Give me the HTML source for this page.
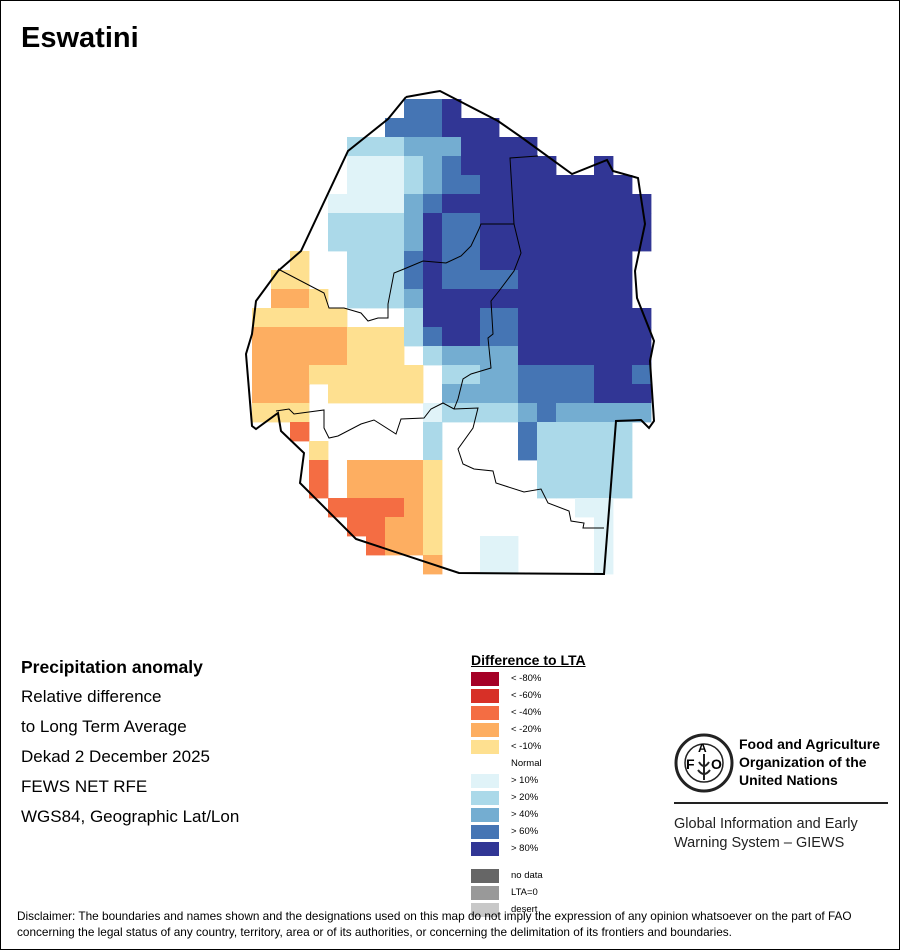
<!DOCTYPE html>
<html><head><meta charset="utf-8"><style>
body{margin:0;background:#fff}
#w{position:relative;width:898px;height:948px;border:1px solid #000;overflow:hidden;font-family:"Liberation Sans",sans-serif;background:#fff}
.t{position:absolute;white-space:nowrap;color:#000}
</style></head><body><div id="w">
<div class="t" style="left:20px;top:21px;font-size:29px;font-weight:bold">Eswatini</div>
<svg id="m" width="898" height="948" style="position:absolute;left:0;top:0"></svg>
<div class="t" style="left:20px;top:656px;font-size:17.5px;font-weight:bold">Precipitation anomaly</div>
<div class="t" style="left:20px;top:686px;font-size:17px">Relative difference</div>
<div class="t" style="left:20px;top:716px;font-size:17px">to Long Term Average</div>
<div class="t" style="left:20px;top:746px;font-size:17px">Dekad 2 December 2025</div>
<div class="t" style="left:20px;top:776px;font-size:17px">FEWS NET RFE</div>
<div class="t" style="left:20px;top:806px;font-size:17px">WGS84, Geographic Lat/Lon</div>
<div class="t" style="left:470px;top:651px;font-size:14px;font-weight:bold;text-decoration:underline">Difference to LTA</div>
<div id="leg"></div>
<svg style="position:absolute;left:672px;top:731px" width="62" height="62" viewBox="0 0 62 62">
<circle cx="31" cy="31" r="28" fill="none" stroke="#222" stroke-width="3"/>
<circle cx="31" cy="31" r="19" fill="none" stroke="#222" stroke-width="1.5"/>
<text x="13" y="37" font-size="14" font-weight="bold" font-family="Liberation Sans">F</text>
<text x="25" y="20" font-size="12" font-weight="bold" font-family="Liberation Sans">A</text>
<text x="38" y="37" font-size="14" font-weight="bold" font-family="Liberation Sans">O</text>
<path d="M31 22 L31 48 M26 30 Q31 38 36 30 M25 38 Q31 46 37 38" stroke="#222" stroke-width="2" fill="none"/>
</svg>
<div class="t" style="left:738px;top:734px;font-size:14px;font-weight:bold;line-height:18px">Food and Agriculture<br>Organization of the<br>United Nations</div>
<div style="position:absolute;left:673px;top:801px;width:214px;height:2px;background:#222"></div>
<div class="t" style="left:673px;top:814px;font-size:14.5px;line-height:19px;color:#222">Global Information and Early<br>Warning System – GIEWS</div>
<div class="t" style="left:16px;top:907px;font-size:11.8px;line-height:16px">Disclaimer: The boundaries and names shown and the designations used on this map do not imply the expression of any opinion whatsoever on the part of FAO<br>concerning the legal status of any country, territory, area or of its authorities, or concerning the delimitation of its frontiers and boundaries.</div>
</div>
<script>
var C={D:'#313695',M:'#4575b4',L:'#74add1',P:'#abd9e9',V:'#e0f3f8',Y:'#fee090',O:'#fdae61',R:'#f46d43'};
var G=["........MMD..........",".......MMMDDD........",".....PPPLLLDDDD......",".....VVVPLMDDDDD..D..",".....VVVPLMMDDDDDDDD.","....VVVVLMDDDDDDDDDDD","....PPPPLDMMDDDDDDDDD","....PPPPLDMMDDDDDDDDD","..Y..PPPMDMMDDDDDDDD.",".YY..PPPMDMMMMDDDDDD.",".OOY.PPPLDDDDDDDDDDD.","YYYYY...PDDDMMDDDDDDD","OOOOOYYYPMDDMMDDDDDDD","OOOOOYYY.PLLLLDDDDDDD","OOOYYYYYY.PPLLMMMMDDM","OOO.YYYYY.LLLLMMMMDDD","YYY......VPPPPLMLLLLL","..R......P....MPPPPP.","...Y.....P....MPPPPP.","...R.OOOOY.....PPPPP.","...R.OOOOY.....PPPPP.","....RRRROY.......VV..",".....RROOY........V..","......ROOY..VV....V..",".........O..VV....V.."];
var s='';
G.forEach(function(r,i){for(var j=0;j<r.length;j++){var c=C[r[j]];if(c)s+='<rect x="'+(251+19*j)+'" y="'+(98+19*i)+'" width="19.4" height="19.4" fill="'+c+'"/>';}});
s+='<polyline fill="none" stroke="#000" stroke-width="2" points="405,96 433,91 439,90 497,120 520,136 571,173 606,159 612,170 637,177 644,223 634,270 636,297 653,340 649,360 653,420 648,427 640,419 615,420 603,573 458,572 355,538 299,482 303,452 280,430 277,412 255,428 251,425 245,353 251,333 255,300 277,270 300,250 347,150 387,118 405,96"/>';
s+='<polyline fill="none" stroke="#000" stroke-width="1" points="277,268 323,292 328,307 343,307 360,312 367,320 377,317 387,317 387,303 393,272 403,268 422,260 445,262 460,255 470,245 478,228 480,223 513,223"/>';
s+='<polyline fill="none" stroke="#000" stroke-width="1" points="537,155 509,157 513,223 520,252 513,270 498,290 490,300 492,333 487,337 490,367 470,373 462,378 457,398 453,408"/>';
s+='<polyline fill="none" stroke="#000" stroke-width="1" points="275,410 288,408 293,413 323,409 323,427 328,437 337,435 360,423 373,419 395,433 400,418 423,417 430,408 442,402 453,408 477,407 472,427 457,448 462,463 473,468 492,470 495,482 523,491 540,488 547,502 568,510 570,520 583,522 582,527 603,527"/>';
document.getElementById('m').innerHTML=s;
var L=[['#a50026','&lt; -80%'],['#d73027','&lt; -60%'],['#f46d43','&lt; -40%'],['#fdae61','&lt; -20%'],['#fee090','&lt; -10%'],[null,'Normal'],['#e0f3f8','&gt; 10%'],['#abd9e9','&gt; 20%'],['#74add1','&gt; 40%'],['#4575b4','&gt; 60%'],['#313695','&gt; 80%']];
var h='';
L.forEach(function(e,i){var y=671+17*i;if(e[0])h+='<div style="position:absolute;left:470px;top:'+y+'px;width:28px;height:14px;background:'+e[0]+'"></div>';h+='<div class="t" style="left:510px;top:'+(y+1)+'px;font-size:9.5px">'+e[1]+'</div>';});
[['#666','no data'],['#999','LTA=0'],['#c8c8c8','desert']].forEach(function(e,i){var y=868+17*i;h+='<div style="position:absolute;left:470px;top:'+y+'px;width:28px;height:14px;background:'+e[0]+'"></div><div class="t" style="left:510px;top:'+(y+1)+'px;font-size:9.5px">'+e[1]+'</div>';});
document.getElementById('leg').innerHTML=h;
</script>
</body></html>
